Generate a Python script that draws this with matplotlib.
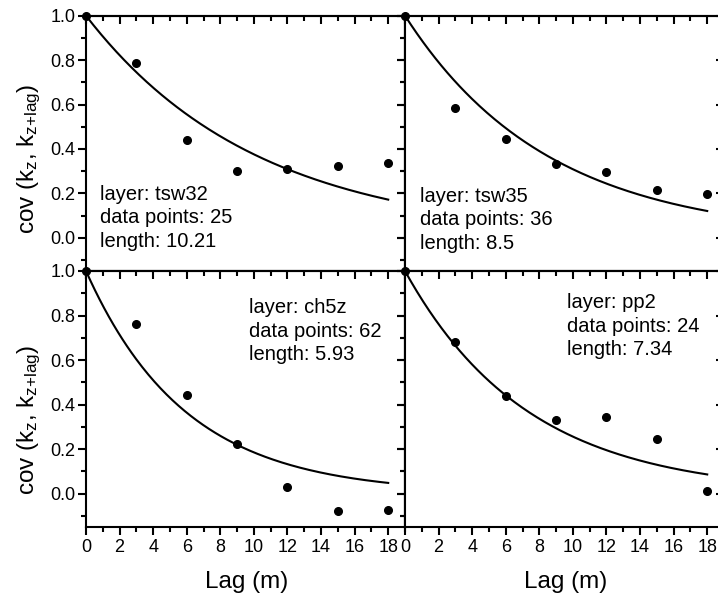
import numpy as np
import matplotlib
matplotlib.use("Agg")
import matplotlib.pyplot as plt
from matplotlib.ticker import MultipleLocator

plt.rcParams['font.family'] = ['Liberation Sans', 'DejaVu Sans']
plt.rcParams['mathtext.default'] = 'regular'

# lag distances (m) where the sample covariance was evaluated
lags = [0, 3, 6, 9, 12, 15, 18]

layers = ['tsw32', 'tsw35', 'ch5z', 'pp2']
n_points = [25, 36, 62, 24]
lengths = [10.21, 8.5, 5.93, 7.34]

cov_tsw32 = [1.0, 0.786, 0.440, 0.302, 0.310, 0.323, 0.335]
cov_tsw35 = [1.0, 0.584, 0.444, 0.333, 0.294, 0.217, 0.199]
cov_ch5z = [1.0, 0.761, 0.443, 0.225, 0.028, -0.080, -0.072]
cov_pp2 = [1.0, 0.680, 0.439, 0.332, 0.346, 0.244, 0.010]
covs = [cov_tsw32, cov_tsw35, cov_ch5z, cov_pp2]

# where the layer info box goes (axes fraction, top-left corner of text)
text_pos = [(0.044, 0.337), (0.047, 0.330), (0.512, 0.893), (0.507, 0.913)]

W, H = 718, 599
fig = plt.figure(figsize=(W / 100, H / 100), dpi=100)

# panel boxes in pixels: left, top, right, bottom
boxes = [(86, 15.7, 405, 271), (405, 15.7, 724, 271),
         (86, 271, 405, 527), (405, 271, 724, 527)]


def style_ticks(axis_obj, direction):
    axis_obj.tick_params(which='both', direction=direction, width=1.5)
    axis_obj.tick_params(which='major', length=6)
    axis_obj.tick_params(which='minor', length=3.5)


for i, (l, t, r, b) in enumerate(boxes):
    ax = fig.add_axes([l / W, (H - b) / H, (r - l) / W, (b - t) / H])
    ax.set_xlim(0, 19)
    ax.set_ylim(-0.15, 1.0)

    # exponential covariance model with the fitted correlation length
    h = np.linspace(0, 18, 200)
    ax.plot(h, np.exp(-h / lengths[i]), color='black', lw=1.5)
    ax.plot(lags, covs[i], 'o', color='black', ms=5.5, clip_on=False, zorder=5)

    ax.text(text_pos[i][0], text_pos[i][1],
            'layer: %s\ndata points: %d\nlength: %s' % (layers[i], n_points[i], lengths[i]),
            transform=ax.transAxes, ha='left', va='top', fontsize=14.5,
            linespacing=1.3)

    for sp in ax.spines.values():
        sp.set_linewidth(1.5)

    ax.xaxis.set_major_locator(MultipleLocator(2))
    ax.xaxis.set_minor_locator(MultipleLocator(1))
    ax.yaxis.set_major_locator(MultipleLocator(0.2))
    ax.yaxis.set_minor_locator(MultipleLocator(0.1))
    style_ticks(ax, 'out')
    ax.tick_params(labelsize=13, top=False, right=False)
    ax.tick_params(axis='y', pad=1.5)
    ax.tick_params(axis='x', pad=3)

    # mirrored ticks on top and right pointing inward
    secx = ax.secondary_xaxis('top')
    secx.xaxis.set_major_locator(MultipleLocator(2))
    secx.xaxis.set_minor_locator(MultipleLocator(1))
    style_ticks(secx, 'in')
    secx.tick_params(labeltop=False)
    secx.spines['top'].set_linewidth(1.5)

    secy = ax.secondary_yaxis('right')
    secy.yaxis.set_major_locator(MultipleLocator(0.2))
    secy.yaxis.set_minor_locator(MultipleLocator(0.1))
    style_ticks(secy, 'in')
    secy.tick_params(labelright=False)
    secy.spines['right'].set_linewidth(1.5)

    if i % 2 == 0:
        ax.yaxis.set_major_formatter(plt.FormatStrFormatter('%.1f'))
        ax.set_ylabel(r'cov (k$_z$, k$_{z{+}lag}$)', fontsize=17.5)
        ax.yaxis.set_label_coords(-0.135, 0.44 if i == 0 else 0.42)
    else:
        ax.tick_params(axis='y', labelleft=False)

    if i >= 2:
        ax.set_xlabel('Lag (m)', fontsize=17.5)
        ax.xaxis.set_label_coords(0.503, -0.172)
    else:
        ax.tick_params(axis='x', labelbottom=False)

fig.savefig('out.png', dpi=100)
